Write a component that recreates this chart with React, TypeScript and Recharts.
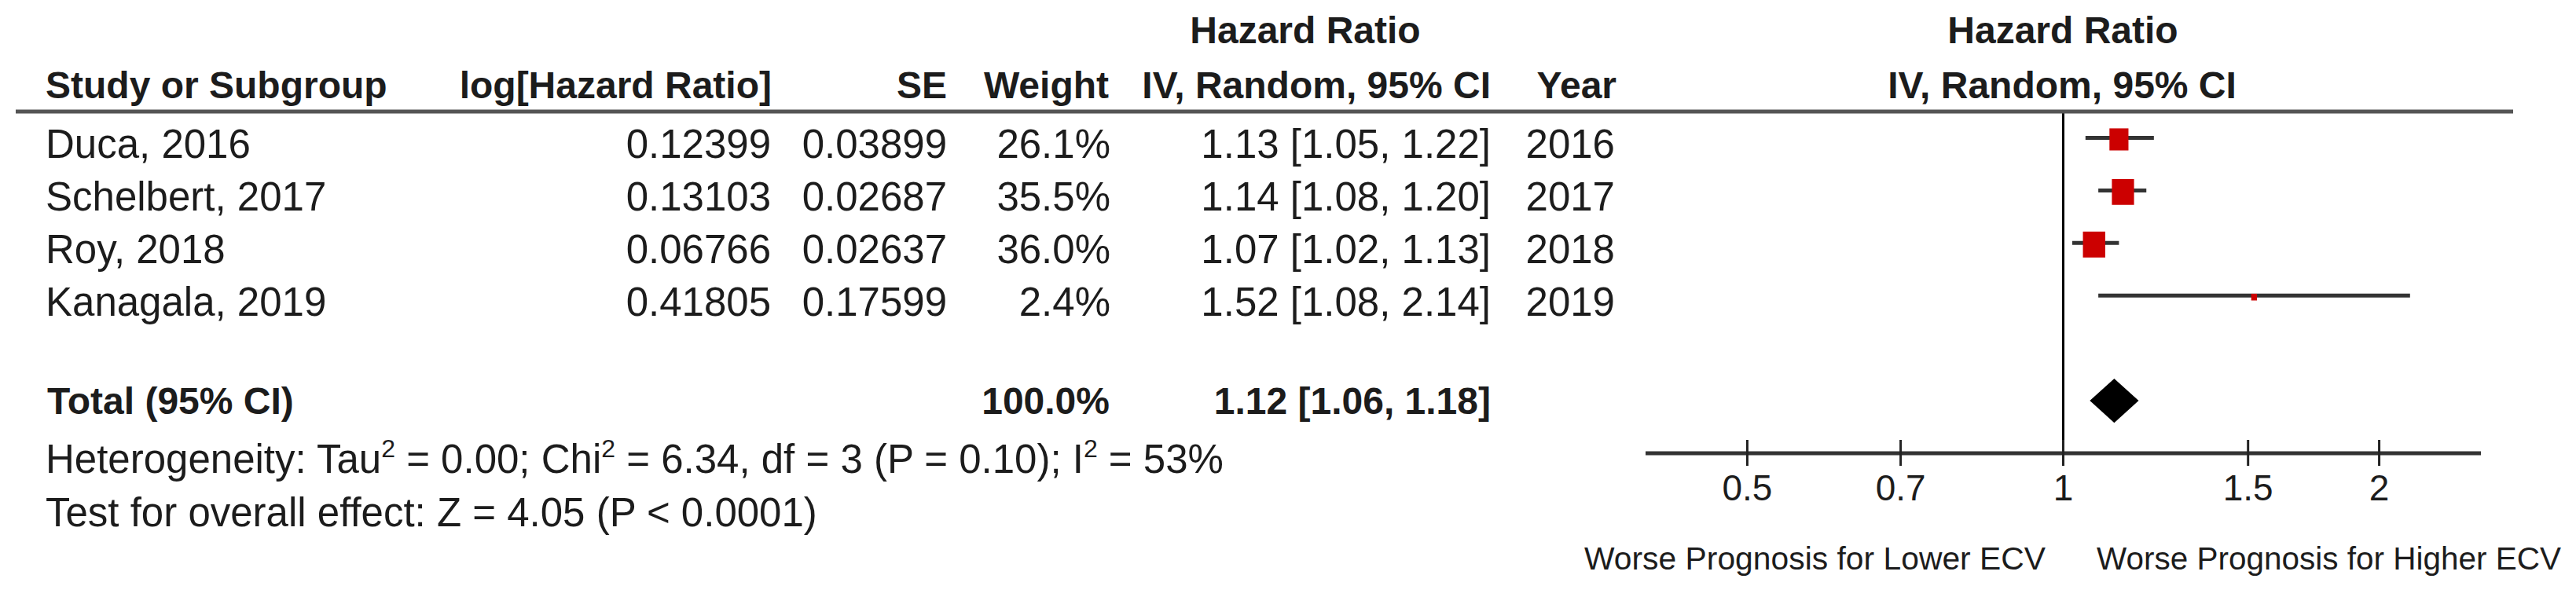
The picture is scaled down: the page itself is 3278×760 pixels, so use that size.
import { ScatterChart, Scatter, XAxis, YAxis, ReferenceLine, ReferenceArea } from "recharts";

// study rows
const studies = ["Duca, 2016", "Schelbert, 2017", "Roy, 2018", "Kanagala, 2019"];
const logHR = ["0.12399", "0.13103", "0.06766", "0.41805"];
const se = ["0.03899", "0.02687", "0.02637", "0.17599"];
const weights = [26.1, 35.5, 36.0, 2.4];
const hr = [1.13, 1.14, 1.07, 1.52];
const ciLow = [1.05, 1.08, 1.02, 1.08];
const ciHigh = [1.22, 1.2, 1.13, 2.14];
const years = ["2016", "2017", "2018", "2019"];

// pooled estimate
const totalWeight = 100.0;
const totalHR = 1.12;
const totalLow = 1.06;
const totalHigh = 1.18;

// stats footnotes
const tau2 = "0.00";
const chi2 = "6.34";
const df = 3;
const pHet = "0.10";
const i2 = 53;
const zVal = "4.05";
const pOverall = "P < 0.0001";

// axis
const axisTicks = [0.5, 0.7, 1, 1.5, 2];
const axisDomain = [0.4, 2.5];
const leftLabel = "Worse Prognosis for Lower ECV";
const rightLabel = "Worse Prognosis for Higher ECV";

const W = 3278;
const H = 760;
const FONT = "'Liberation Sans', Arial, sans-serif";
const INK = "#1c1c1c";
const TOTAL_ROW = 5;

const points = hr.map((v, i) => ({ hr: v, row: i, weight: weights[i] }));

const fmt = (v: number) => v.toFixed(2);

function AxisTick({ x, y, payload }: any) {
  return (
    <g>
      <line x1={x} x2={x} y1={y - 17} y2={y + 16} stroke="#222" strokeWidth={3} />
      <text x={x} y={y + 60} textAnchor="middle" fontSize={46} fontFamily={FONT} fill={INK}>
        {payload.value}
      </text>
    </g>
  );
}

function StudyBox({ cx, cy, payload }: any) {
  const h = Math.sqrt(payload.weight / 36) * 33;
  const w = h * 0.86;
  return <rect x={cx - w / 2} y={cy - h / 2 + 2} width={w} height={h} fill="#cc0000" />;
}

function Diamond({ x, y, width, height }: any) {
  const mx = x + width / 2;
  const my = y + height / 2;
  return (
    <polygon
      points={`${x},${my} ${mx},${y} ${x + width},${my} ${mx},${y + height}`}
      fill="#000"
    />
  );
}

function T({ x, y, anchor = "start", bold = false, size, children }: any) {
  return (
    <text
      x={x}
      y={y}
      textAnchor={anchor}
      fontFamily={FONT}
      fontSize={size ?? (bold ? 48 : 51)}
      fontWeight={bold ? 700 : 400}
      fill={INK}
    >
      {children}
    </text>
  );
}

export default function App() {
  const rowY = (i: number) => 201 + 67 * i;
  const sup = (s: string) => (
    <tspan dy={-20} fontSize={32}>{s}</tspan>
  );
  return (
    <div style={{ position: "absolute", left: 0, top: 0, width: W, height: H, background: "#fff" }}>
      <ScatterChart
        width={W}
        height={H}
        margin={{ top: 142, left: 2094, right: 121, bottom: 123 }}
        style={{ position: "absolute", left: 0, top: 0 }}
      >
        <XAxis
          type="number"
          dataKey="hr"
          scale="log"
          domain={axisDomain}
          allowDataOverflow
          ticks={axisTicks}
          height={60}
          tickSize={0}
          tickMargin={0}
          tickLine={false}
          axisLine={{ stroke: "#333", strokeWidth: 5 }}
          tick={<AxisTick />}
        />
        <YAxis type="number" dataKey="row" domain={[-0.5, 6]} reversed hide />
        <ReferenceLine x={1} stroke="#000" strokeWidth={3} />
        {hr.map((_, i) => (
          <ReferenceLine
            key={studies[i]}
            segment={[
              { x: ciLow[i], y: i },
              { x: ciHigh[i], y: i },
            ]}
            stroke="#333"
            strokeWidth={5}
          />
        ))}
        <Scatter data={points} shape={<StudyBox />} isAnimationActive={false} />
        <ReferenceArea
          x1={totalLow}
          x2={totalHigh}
          y1={TOTAL_ROW - 0.42}
          y2={TOTAL_ROW + 0.42}
          shape={<Diamond />}
        />
      </ScatterChart>

      <svg
        width={W}
        height={H}
        style={{ position: "absolute", left: 0, top: 0, pointerEvents: "none" }}
      >
        <line x1={20} x2={3198} y1={142} y2={142} stroke="#555" strokeWidth={5} />

        <T x={1661} y={55} anchor="middle" bold>Hazard Ratio</T>
        <T x={2625} y={55} anchor="middle" bold>Hazard Ratio</T>
        <T x={58} y={125} bold>Study or Subgroup</T>
        <T x={982} y={125} anchor="end" bold>log[Hazard Ratio]</T>
        <T x={1205} y={125} anchor="end" bold>SE</T>
        <T x={1411} y={125} anchor="end" bold>Weight</T>
        <T x={1897} y={125} anchor="end" bold>IV, Random, 95% CI</T>
        <T x={2057} y={125} anchor="end" bold>Year</T>
        <T x={2624} y={125} anchor="middle" bold>IV, Random, 95% CI</T>

        {studies.map((s, i) => (
          <g key={s}>
            <T x={58} y={rowY(i)}>{s}</T>
            <T x={981} y={rowY(i)} anchor="end">{logHR[i]}</T>
            <T x={1205} y={rowY(i)} anchor="end">{se[i]}</T>
            <T x={1413} y={rowY(i)} anchor="end">{weights[i].toFixed(1)}%</T>
            <T x={1897} y={rowY(i)} anchor="end">
              {`${fmt(hr[i])} [${fmt(ciLow[i])}, ${fmt(ciHigh[i])}]`}
            </T>
            <T x={2055} y={rowY(i)} anchor="end">{years[i]}</T>
          </g>
        ))}

        <T x={60} y={527} bold>Total (95% CI)</T>
        <T x={1412} y={527} anchor="end" bold>{totalWeight.toFixed(1)}%</T>
        <T x={1897} y={527} anchor="end" bold>
          {`${fmt(totalHR)} [${fmt(totalLow)}, ${fmt(totalHigh)}]`}
        </T>

        <T x={58} y={602}>
          <tspan>Heterogeneity: Tau</tspan>
          {sup("2")}
          <tspan dy={20}>{` = ${tau2}; Chi`}</tspan>
          {sup("2")}
          <tspan dy={20}>{` = ${chi2}, df = ${df} (P = ${pHet}); I`}</tspan>
          {sup("2")}
          <tspan dy={20}>{` = ${i2}%`}</tspan>
        </T>
        <T x={58} y={670}>{`Test for overall effect: Z = ${zVal} (${pOverall})`}</T>

        <text x={2016} y={725} fontSize={40} fontFamily={FONT} fill={INK} textLength={587} lengthAdjust="spacingAndGlyphs">
          {leftLabel}
        </text>
        <text x={2668} y={725} fontSize={40} fontFamily={FONT} fill={INK} textLength={591} lengthAdjust="spacingAndGlyphs">
          {rightLabel}
        </text>
      </svg>
    </div>
  );
}
